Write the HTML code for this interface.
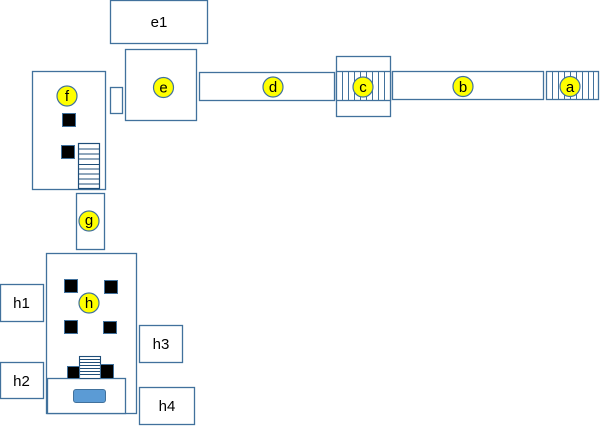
<!DOCTYPE html>
<html><head><meta charset="utf-8"><style>
html,body{margin:0;padding:0;background:#fff;}
svg{display:block;}
text{font-family:"Liberation Sans",sans-serif;fill:#000;}
</style></head><body>
<svg width="600" height="427" viewBox="0 0 600 427" xmlns="http://www.w3.org/2000/svg">
<g fill="#fff" stroke="#41719c" stroke-width="1.3">
  <!-- e1 -->
  <rect x="110.5" y="0.5" width="97" height="43"/>
  <!-- e -->
  <rect x="125.5" y="49.5" width="71" height="71"/>
  <!-- small door -->
  <rect x="110.5" y="87.5" width="12" height="26"/>
  <!-- d -->
  <rect x="199.5" y="72.5" width="135" height="28"/>
  <!-- c outer -->
  <rect x="336.5" y="56.5" width="54" height="60"/>
  <rect x="336.5" y="71.5" width="54" height="29"/>
  <!-- b -->
  <rect x="392.5" y="71.5" width="151" height="28"/>
  <!-- a -->
  <rect x="546.5" y="71.5" width="52" height="28"/>
  <!-- f -->
  <rect x="32.5" y="71.5" width="73" height="118"/>
  <!-- g -->
  <rect x="76.5" y="193.5" width="28" height="56"/>
  <!-- h -->
  <rect x="46.5" y="253.5" width="90" height="160"/>
  <rect x="47.5" y="378.5" width="78" height="35"/>
  <!-- h1..h4 -->
  <rect x="0.5" y="284.5" width="43" height="37"/>
  <rect x="0.5" y="362.5" width="43" height="36"/>
  <rect x="139.5" y="325.5" width="43" height="37"/>
  <rect x="139.5" y="387.5" width="55" height="37"/>
</g>
<!-- c vertical hatching -->
<g stroke="#41719c" stroke-width="1">
  <line x1="342.5" y1="72" x2="342.5" y2="100"/>
  <line x1="348.5" y1="72" x2="348.5" y2="100"/>
  <line x1="354.5" y1="72" x2="354.5" y2="100"/>
  <line x1="360.5" y1="72" x2="360.5" y2="100"/>
  <line x1="366.5" y1="72" x2="366.5" y2="100"/>
  <line x1="372.5" y1="72" x2="372.5" y2="100"/>
  <line x1="378.5" y1="72" x2="378.5" y2="100"/>
  <line x1="384.5" y1="72" x2="384.5" y2="100"/>
  <!-- a hatching -->
  <line x1="552.5" y1="72" x2="552.5" y2="99"/>
  <line x1="558.5" y1="72" x2="558.5" y2="99"/>
  <line x1="564.5" y1="72" x2="564.5" y2="99"/>
  <line x1="570.5" y1="72" x2="570.5" y2="99"/>
  <line x1="576.5" y1="72" x2="576.5" y2="99"/>
  <line x1="582.5" y1="72" x2="582.5" y2="99"/>
  <line x1="588.5" y1="72" x2="588.5" y2="99"/>
  <line x1="593.5" y1="72" x2="593.5" y2="99"/>
</g>
<!-- f stairs -->
<rect x="78.5" y="143.5" width="21" height="45" fill="#fff" stroke="#1f4e79" stroke-width="1.2"/>
<g stroke="#1f4e79" stroke-width="1">
  <line x1="79" y1="149" x2="99" y2="149"/>
  <line x1="79" y1="154" x2="99" y2="154"/>
  <line x1="79" y1="159" x2="99" y2="159"/>
  <line x1="79" y1="164.5" x2="99" y2="164.5"/>
  <line x1="79" y1="169" x2="99" y2="169"/>
  <line x1="79" y1="174" x2="99" y2="174"/>
  <line x1="79" y1="179" x2="99" y2="179"/>
  <line x1="79" y1="184" x2="99" y2="184"/>
</g>
<!-- h stairs -->
<rect x="79.5" y="356.5" width="21" height="22" fill="#fff" stroke="#1f4e79" stroke-width="1.1"/>
<g stroke="#1f4e79" stroke-width="0.9">
  <line x1="80" y1="359.5" x2="100" y2="359.5"/>
  <line x1="80" y1="362.5" x2="100" y2="362.5"/>
  <line x1="80" y1="365.5" x2="100" y2="365.5"/>
  <line x1="80" y1="368.5" x2="100" y2="368.5"/>
  <line x1="80" y1="371.5" x2="100" y2="371.5"/>
  <line x1="80" y1="374.5" x2="100" y2="374.5"/>
</g>
<!-- black squares -->
<g fill="#000" stroke="#41719c" stroke-width="1">
  <rect x="62.5" y="113.5" width="13" height="13"/>
  <rect x="61.5" y="145.5" width="13" height="13"/>
  <rect x="64.5" y="279.5" width="13" height="13"/>
  <rect x="104.5" y="280.5" width="13" height="13"/>
  <rect x="64.5" y="320.5" width="13" height="13"/>
  <rect x="103.5" y="321.5" width="13" height="12"/>
  <rect x="67.5" y="366.5" width="12" height="12"/>
  <rect x="100.5" y="364.5" width="13" height="14"/>
</g>
<!-- pill -->
<rect x="73.5" y="389.5" width="32" height="13" rx="2.5" fill="#5b9bd5" stroke="#41719c" stroke-width="1"/>
<!-- yellow circles -->
<g fill="#ffff00" stroke="#41719c" stroke-width="1.2">
  <circle cx="67" cy="96" r="10"/>
  <circle cx="163.5" cy="87.5" r="10"/>
  <circle cx="273" cy="87" r="10"/>
  <circle cx="363" cy="87" r="10"/>
  <circle cx="463" cy="86.5" r="10"/>
  <circle cx="570" cy="86.5" r="10"/>
  <circle cx="89" cy="221" r="10"/>
  <circle cx="89" cy="303" r="10"/>
</g>
<g font-size="15" text-anchor="middle">
  <text x="67" y="101">f</text>
  <text x="163.5" y="92.5">e</text>
  <text x="273" y="92">d</text>
  <text x="363" y="92">c</text>
  <text x="463" y="92">b</text>
  <text x="570" y="92">a</text>
  <text x="89" y="225">g</text>
  <text x="89" y="308">h</text>
  <text x="159" y="27">e1</text>
  <text x="21.5" y="308">h1</text>
  <text x="21.5" y="386">h2</text>
  <text x="161" y="349">h3</text>
  <text x="167" y="411">h4</text>
</g>
</svg>
</body></html>
